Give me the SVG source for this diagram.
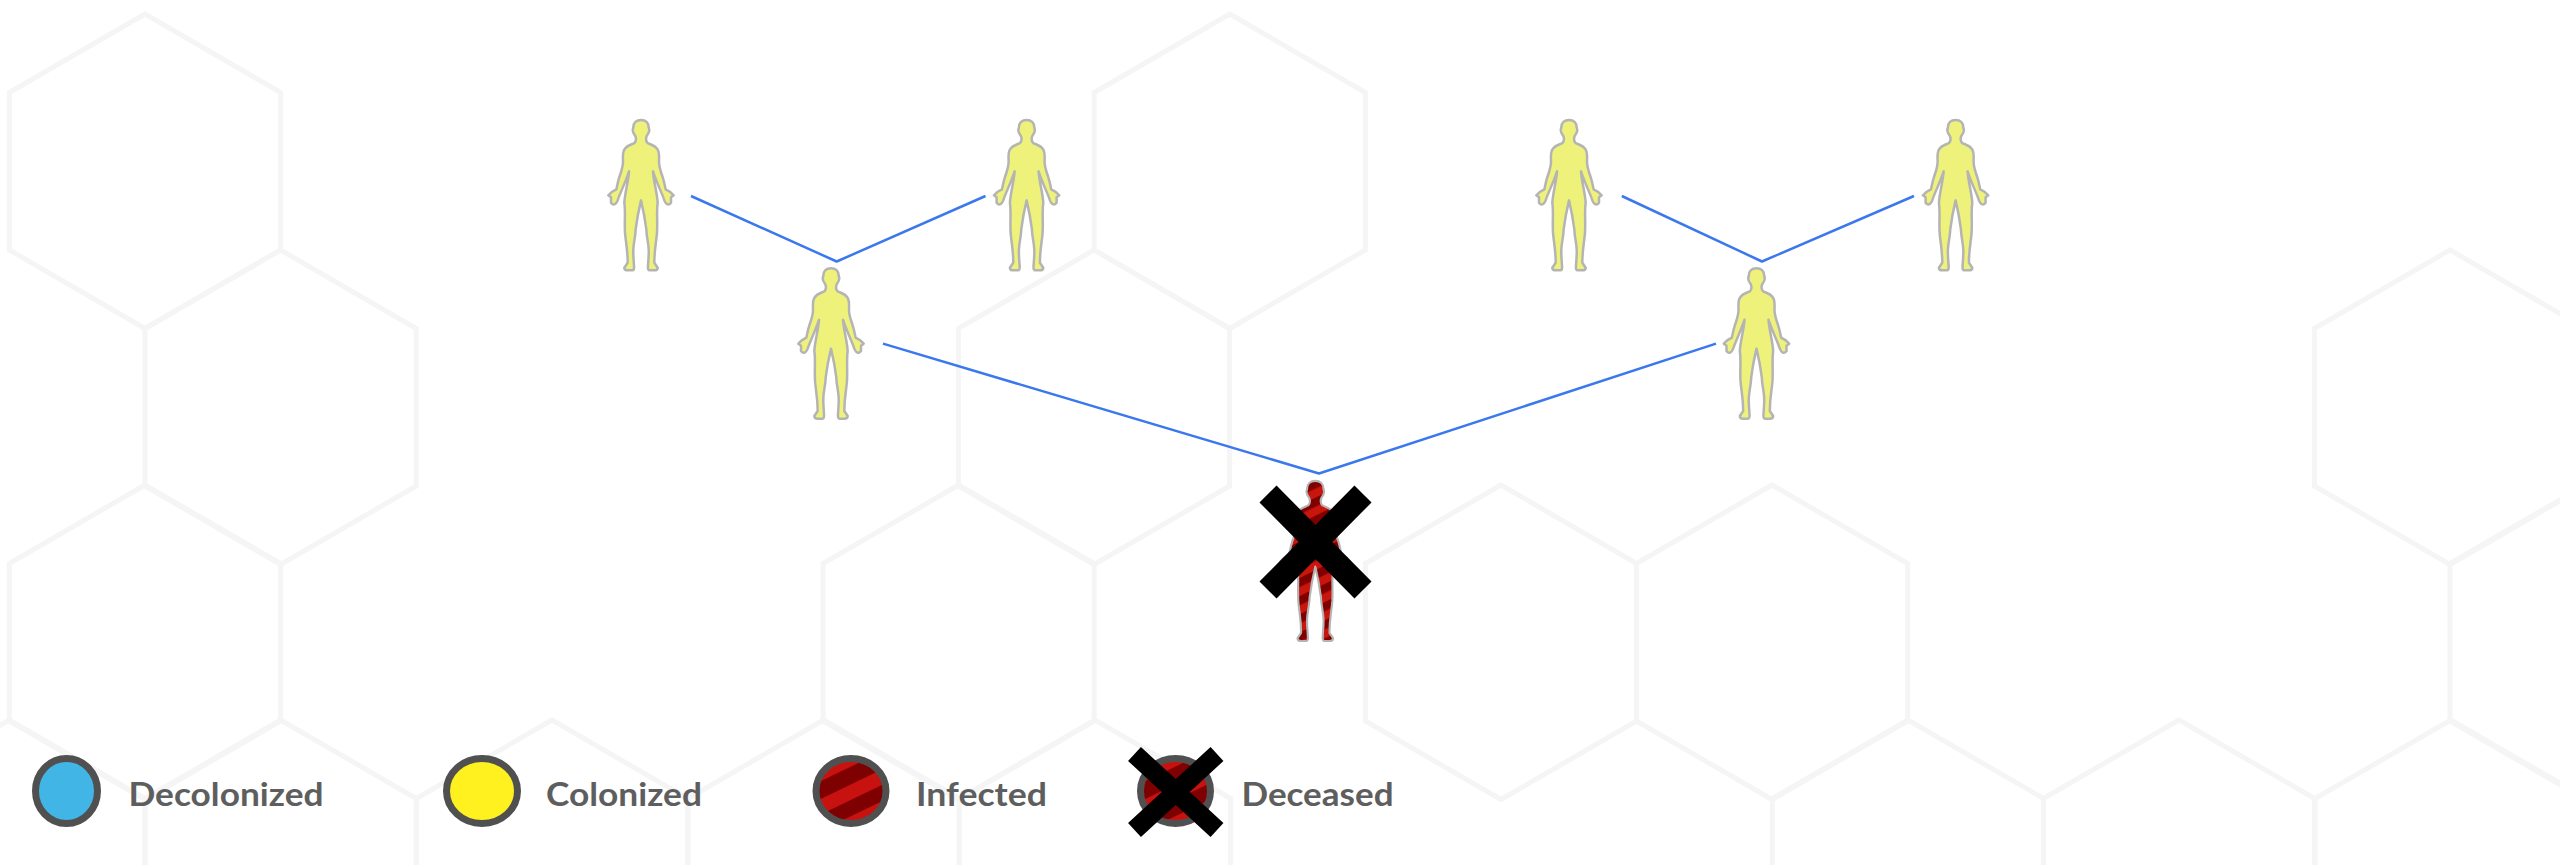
<svg xmlns="http://www.w3.org/2000/svg" width="2560" height="865" viewBox="0 0 2560 865">
  <style>
    .hex { fill: none; stroke: #f5f5f5; stroke-width: 5; }
    .link { fill: none; stroke: #3b78ee; stroke-width: 2.5; stroke-linejoin: round; }
    .body { stroke: #b4b4b4; stroke-width: 7.5; stroke-linejoin: round; filter: url(#soft); }
    .well { fill: #eff27a; }
    .sick { fill: url(#bodyStripes); stroke-width: 6; }
    .ring { fill: none; stroke: #505050; stroke-width: 7; }
    .cross { stroke: #000; fill: none; }
    .label { font-family: "Lato", "Liberation Sans", sans-serif; font-weight: 700; font-size: 33px; fill: #5e5e5e; }
  </style>
  <defs>
    <filter id="soft" x="-10%" y="-10%" width="120%" height="120%"><feGaussianBlur stdDeviation="1.2"/></filter>
    <polygon id="hexagon" points="0,0 135.6,78.5 135.6,236 0,314.5 -135.6,236 -135.6,78.5"/>
    <path id="person" d="M0,4 C14,4 23,12 23,26 L25,34 C25,42 20,48 17,52 C14,60 15,68 20,73 C30,78 42,80 48,90 C54,96 55,108 54,125 C53,145 60,160 65,175 C70,190 72,205 74,212 L88,220 L98,230 L90,236 L90,252 C84,260 76,260 70,245 C64,225 50,200 36,158 C38,190 48,220 50,252 C46,280 50,300 48,342 C46,370 40,390 40,432 L50,447 C50,455 44,455 40,455 L26,455 C22,455 20,450 21,442 C22,420 24,410 23,392 C22,370 16,350 16,332 C12,300 6,270 0,245 C-6,270 -12,300 -16,332 C-16,350 -22,370 -23,392 C-24,410 -22,420 -21,442 C-20,450 -22,455 -26,455 L-40,455 C-44,455 -50,455 -50,447 L-40,432 C-40,390 -46,370 -48,342 C-50,300 -46,280 -50,252 C-48,220 -38,190 -36,158 C-50,200 -64,225 -70,245 C-76,260 -84,260 -90,252 L-90,236 L-98,230 L-88,220 L-74,212 C-72,205 -70,190 -65,175 C-60,160 -53,145 -54,125 C-55,108 -54,96 -48,90 C-42,80 -30,78 -20,73 C-15,68 -14,60 -17,52 C-20,48 -25,42 -25,34 L-23,26 C-23,12 -14,4 0,4 Z"/>
    <pattern id="bodyStripes" patternUnits="userSpaceOnUse" width="20" height="46" patternTransform="rotate(-26)">
      <rect width="20" height="46" fill="#c8120f"/>
      <rect width="20" height="23" fill="#7f0000"/>
    </pattern>
    <clipPath id="discClip"><ellipse cx="0" cy="0" rx="35" ry="32.5"/></clipPath>
    <g id="stripedDisc">
      <ellipse cx="0" cy="0" rx="35" ry="32.5" fill="#c8120f"/>
      <g clip-path="url(#discClip)">
        <g transform="rotate(-25.8)" fill="#7f0000">
          <rect x="-50" y="-22" width="100" height="16"/>
          <rect x="-50" y="8" width="100" height="14.6"/>
        </g>
      </g>
      <ellipse class="ring" cx="0" cy="0" rx="35" ry="32.5"/>
    </g>
  </defs>

  <rect width="2560" height="865" fill="#ffffff"/>

  <g id="hex-background" class="hex">
    <use href="#hexagon" x="145" y="14"/>
    <use href="#hexagon" x="1229.8" y="14"/>
    <use href="#hexagon" x="280.6" y="250"/>
    <use href="#hexagon" x="1094" y="250"/>
    <use href="#hexagon" x="2450" y="250"/>
    <use href="#hexagon" x="145" y="485"/>
    <use href="#hexagon" x="958.6" y="485"/>
    <use href="#hexagon" x="1501" y="485"/>
    <use href="#hexagon" x="1772" y="485"/>
    <use href="#hexagon" x="2585.6" y="485"/>
    <use href="#hexagon" x="9.4" y="720"/>
    <use href="#hexagon" x="280.6" y="720"/>
    <use href="#hexagon" x="552" y="720"/>
    <use href="#hexagon" x="823.6" y="720"/>
    <use href="#hexagon" x="1095" y="720"/>
    <use href="#hexagon" x="1908" y="720"/>
    <use href="#hexagon" x="2179" y="720"/>
    <use href="#hexagon" x="2450.8" y="720"/>
  </g>

  <g id="connectors">
    <polyline class="link" points="691,196 836.7,261.5 985.5,196"/>
    <polyline class="link" points="1621.8,196 1762,261.5 1914,196"/>
    <polyline class="link" points="883,343.6 1319,473.5 1716,343.6"/>
  </g>

  <g id="person-1"><use href="#person" class="body well" transform="translate(641 118.7) scale(0.3333)"/></g>
  <g id="person-2"><use href="#person" class="body well" transform="translate(1026.6 118.7) scale(0.3333)"/></g>
  <g id="person-3"><use href="#person" class="body well" transform="translate(1569 118.7) scale(0.3333)"/></g>
  <g id="person-4"><use href="#person" class="body well" transform="translate(1955.6 118.7) scale(0.3333)"/></g>
  <g id="person-5"><use href="#person" class="body well" transform="translate(831 267) scale(0.3333)"/></g>
  <g id="person-6"><use href="#person" class="body well" transform="translate(1756.5 267) scale(0.3333)"/></g>
  <g id="person-deceased">
    <use href="#person" class="body sick" transform="translate(1315.3 479.5) scale(0.355)"/>
    <path class="cross" stroke-width="24" d="M1268,494 L1363,590 M1363,494 L1268,590"/>
  </g>

  <g id="legend-decolonized">
    <ellipse cx="66.5" cy="791" rx="31" ry="32.5" fill="#41b6e6" stroke="#505050" stroke-width="7"/>
    <text class="label" x="128.5" y="806" textLength="195" lengthAdjust="spacingAndGlyphs">Decolonized</text>
  </g>
  <g id="legend-colonized">
    <ellipse cx="482" cy="791" rx="35.5" ry="32.5" fill="#fff01f" stroke="#505050" stroke-width="7"/>
    <text class="label" x="546" y="806" textLength="156" lengthAdjust="spacingAndGlyphs">Colonized</text>
  </g>
  <g id="legend-infected">
    <use href="#stripedDisc" x="851" y="791"/>
    <text class="label" x="916" y="806" textLength="131" lengthAdjust="spacingAndGlyphs">Infected</text>
  </g>
  <g id="legend-deceased">
    <use href="#stripedDisc" x="1175.5" y="791"/>
    <path class="cross" stroke-width="19" d="M1134.5,754 L1217,830 M1217,754 L1134.5,830"/>
    <text class="label" x="1241.5" y="806" textLength="152" lengthAdjust="spacingAndGlyphs">Deceased</text>
  </g>
</svg>
